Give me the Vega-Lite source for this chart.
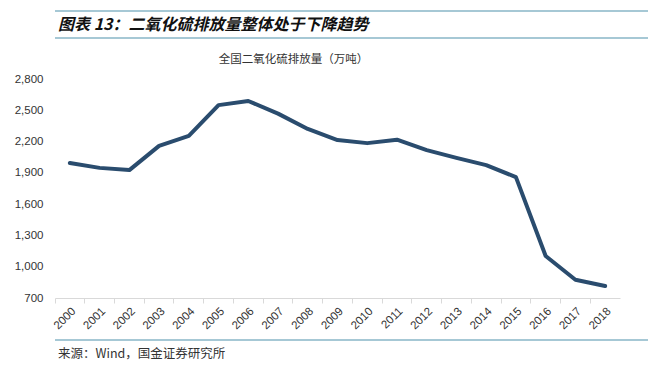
{
  "$schema": "https://vega.github.io/schema/vega-lite/v6.json",
  "background": "white",
  "padding": {"top": 10, "left": 5, "right": 8, "bottom": 0},
  "config": {
    "view": {"stroke": null},
    "font": "Liberation Sans"
  },
  "datasets": {
    "so2": [
      {"year": "2000", "value": 1995.1},
      {"year": "2001", "value": 1947.8},
      {"year": "2002", "value": 1926.6},
      {"year": "2003", "value": 2158.7},
      {"year": "2004", "value": 2254.9},
      {"year": "2005", "value": 2549.4},
      {"year": "2006", "value": 2588.8},
      {"year": "2007", "value": 2468.1},
      {"year": "2008", "value": 2321.2},
      {"year": "2009", "value": 2214.4},
      {"year": "2010", "value": 2185.1},
      {"year": "2011", "value": 2217.9},
      {"year": "2012", "value": 2117.6},
      {"year": "2013", "value": 2043.9},
      {"year": "2014", "value": 1974.4},
      {"year": "2015", "value": 1859.1},
      {"year": "2016", "value": 1102.9},
      {"year": "2017", "value": 875.4},
      {"year": "2018", "value": 815}
    ],
    "header": [{"t": "图表 13：二氧化硫排放量整体处于下降趋势"}],
    "footer": [{"t": "来源：Wind，国金证券研究所"}]
  },
  "columns": 1,
  "align": "none",
  "spacing": 7,
  "concat": [
    {
      "width": 635,
      "height": 35,
      "data": {"name": "header"},
      "layer": [
        {
          "mark": {"type": "rule", "color": "#A6C8D5", "strokeWidth": 2},
          "encoding": {"y": {"datum": 1, "type": "quantitative", "scale": {"domain": [0, 1]}, "axis": null}}
        },
        {
          "mark": {"type": "rule", "color": "#A6C8D5", "strokeWidth": 2},
          "encoding": {"y": {"datum": 0.2286, "type": "quantitative", "scale": {"domain": [0, 1]}, "axis": null}}
        },
        {
          "mark": {"type": "text", "align": "left", "baseline": "middle", "font": "Noto Sans CJK SC", "fontSize": 16, "fontWeight": "bold", "fontStyle": "italic", "color": "#111111", "dx": 3},
          "encoding": {
            "x": {"datum": 0, "type": "quantitative", "scale": {"domain": [0, 1]}, "axis": null},
            "y": {"datum": 0.6, "type": "quantitative", "scale": {"domain": [0, 1]}, "axis": null},
            "text": {"field": "t"}
          }
        }
      ]
    },
    {
      "width": 565,
      "height": 219,
      "data": {"name": "so2"},
      "title": {"text": "全国二氧化硫排放量（万吨）", "font": "Noto Sans CJK SC", "fontSize": 11.5, "fontWeight": "normal", "color": "#333333", "anchor": "middle", "dx": -44, "offset": 8},
      "mark": {"type": "line", "color": "#2A4C6E", "strokeWidth": 4, "strokeJoin": "round", "strokeCap": "round"},
      "encoding": {
        "x": {
          "field": "year", "type": "ordinal",
          "scale": {"type": "band", "paddingInner": 0, "paddingOuter": 0},
          "axis": {"title": null, "bandPosition": 0, "labelAngle": -45, "labelFontSize": 11.5, "labelColor": "#333333", "domainColor": "#D9D9D9", "tickColor": "#D9D9D9", "tickSize": 5, "labelPadding": 2}
        },
        "y": {
          "field": "value", "type": "quantitative",
          "scale": {"domain": [700, 2800], "nice": false, "zero": false},
          "axis": {"title": null, "values": [700, 1000, 1300, 1600, 1900, 2200, 2500, 2800], "format": ",.0f", "grid": false, "domain": false, "ticks": false, "tickSize": 0, "labelPadding": 12, "labelFontSize": 11.5, "labelColor": "#333333", "minExtent": 50}
        }
      }
    },
    {
      "width": 635,
      "height": 24,
      "data": {"name": "footer"},
      "layer": [
        {
          "mark": {"type": "rule", "color": "#A6C8D5", "strokeWidth": 2},
          "encoding": {"y": {"datum": 1, "type": "quantitative", "scale": {"domain": [0, 1]}, "axis": null}}
        },
        {
          "mark": {"type": "text", "align": "left", "baseline": "middle", "font": "Noto Sans CJK SC", "fontSize": 12.5, "color": "#333333", "dx": 3},
          "encoding": {
            "x": {"datum": 0, "type": "quantitative", "scale": {"domain": [0, 1]}, "axis": null},
            "y": {"datum": 0.42, "type": "quantitative", "scale": {"domain": [0, 1]}, "axis": null},
            "text": {"field": "t"}
          }
        }
      ]
    }
  ]
}
